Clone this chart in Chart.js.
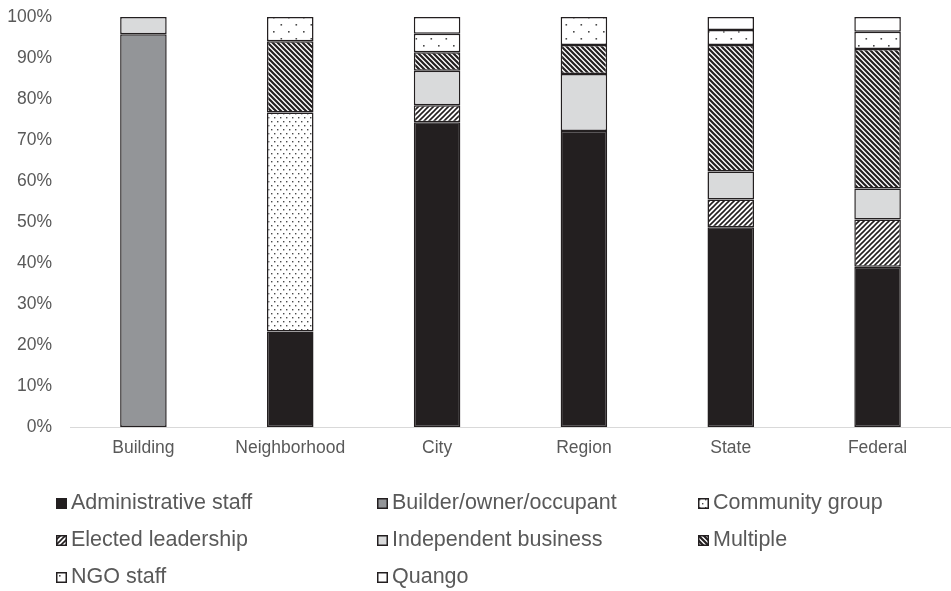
<!DOCTYPE html>
<html>
<head>
<meta charset="utf-8">
<script src="https://cdn.jsdelivr.net/npm/chart.js@4.4.0/dist/chart.umd.min.js"></script>
<style>
  html, body { margin: 0; padding: 0; background: #ffffff; }
  #wrap { position: relative; width: 951px; height: 591px; overflow: hidden; }
  #chart { position: absolute; left: 0; top: 0; }
  .leg { position: absolute; display: flex; align-items: center; font-family: "Liberation Sans", Arial, sans-serif; font-size: 21.5px; color: #595959; white-space: nowrap; line-height: 1; }
  .leg canvas { margin-right: 4px; }
</style>
</head>
<body>
<div id="wrap">
  <canvas id="chart" width="951" height="591"></canvas>
  <div id="legend"></div>
</div>
<script>
// ---- data (percent of each category) ----
const categories = ['Building', 'Neighborhood', 'City', 'Region', 'State', 'Federal'];
const seriesNames = ['Administrative staff', 'Builder/owner/occupant', 'Community group', 'Elected leadership', 'Independent business', 'Multiple', 'NGO staff', 'Quango'];
const adminStaff          = [null, 23.3, 74.3, 72.2, 48.7, 39.1];
const builderOwner        = [95.8, null, null, null, null, null];
const communityGroup      = [null, 53.4, null, null, null, null];
const electedLeadership   = [null, null, 4.2, null, 6.8, 11.5];
const independentBusiness = [4.2, null, 8.4, 13.9, 6.8, 7.6];
const multiple            = [null, 17.4, 4.5, 7.1, 30.9, 34.0];
const ngoStaff            = [null, 5.9, 4.5, 6.8, 3.6, 4.2];
const quango              = [null, null, 4.1, null, 3.2, 3.6];
const yTicks = [0, 10, 20, 30, 40, 50, 60, 70, 80, 90, 100];

// ---- patterns ----
const INK = '#231f20';
function makeTile(w, h, draw) {
  const c = document.createElement('canvas');
  c.width = w; c.height = h;
  const g = c.getContext('2d');
  draw(g, w, h);
  return c;
}
function dots(w, h, pts, r, col) {
  return makeTile(w, h, (g) => {
    g.fillStyle = '#ffffff'; g.fillRect(0, 0, w, h);
    g.fillStyle = col;
    pts.forEach(p => { g.fillRect(p[0], p[1], r, r); });
  });
}
function stripes(s, lw, dir) {
  return makeTile(s, s, (g) => {
    g.fillStyle = '#ffffff'; g.fillRect(0, 0, s, s);
    g.strokeStyle = INK; g.lineWidth = lw; g.lineCap = 'square';
    g.beginPath();
    if (dir === 'back') { // "\\\"
      g.moveTo(-s, 0); g.lineTo(s, 2 * s);
      g.moveTo(0, 0); g.lineTo(s, s);
      g.moveTo(0, -s); g.lineTo(2 * s, s);
    } else { // "///"
      g.moveTo(0, s); g.lineTo(s, 0);
      g.moveTo(-s, s); g.lineTo(s, -s);
      g.moveTo(0, 2 * s); g.lineTo(2 * s, 0);
    }
    g.stroke();
  });
}
const ctxMain = document.getElementById('chart').getContext('2d');
const tiles = {
  community: dots(6, 8, [[1, 1], [4, 5]], 1.4, '#4a4a4a'),
  elected: stripes(5, 1.6, 'fwd'),
  multiple: stripes(5, 2.2, 'back'),
  ngo: dots(15, 14, [[3, 3], [10.5, 10]], 1.6, '#4a4a4a')
};
const fills = [
  INK,
  '#939598',
  ctxMain.createPattern(tiles.community, 'repeat'),
  ctxMain.createPattern(tiles.elected, 'repeat'),
  '#d9dadb',
  ctxMain.createPattern(tiles.multiple, 'repeat'),
  ctxMain.createPattern(tiles.ngo, 'repeat'),
  '#ffffff'
];
const values = [adminStaff, builderOwner, communityGroup, electedLeadership, independentBusiness, multiple, ngoStaff, quango];

const datasets = values.map((v, i) => ({
  label: seriesNames[i],
  data: v,
  backgroundColor: fills[i],
  borderColor: INK,
  borderWidth: 1.5,
  borderSkipped: false,
  categoryPercentage: 1.0,
  barPercentage: 0.317
}));

new Chart(ctxMain, {
  type: 'bar',
  data: { labels: categories, datasets: datasets },
  options: {
    responsive: false,
    devicePixelRatio: 1,
    animation: false,
    layout: { padding: { top: 17, right: 0, bottom: 124, left: 0 } },
    plugins: { legend: { display: false }, tooltip: { enabled: false } },
    scales: {
      x: {
        stacked: true,
        grid: { display: false },
        border: { display: true, color: '#d9d9d9', width: 1 },
        ticks: { color: '#595959', font: { family: '"Liberation Sans", Arial, sans-serif', size: 17.5 }, padding: 3, maxRotation: 0 },
        afterFit: (s) => { s.height = 40; s.paddingLeft = 0; s.paddingRight = 0; }
      },
      y: {
        stacked: true,
        min: 0, max: 100,
        afterBuildTicks: (s) => { s.ticks = yTicks.map(v => ({ value: v })); },
        grid: { display: false },
        border: { display: false },
        ticks: { color: '#595959', font: { family: '"Liberation Sans", Arial, sans-serif', size: 17.5 }, padding: 10, callback: (v) => v + '%' },
        afterFit: (s) => { s.width = 70; s.paddingTop = 0; s.paddingBottom = 0; }
      }
    }
  }
});

// ---- legend (3 columns) ----
const legCols = [56, 377, 698];
const legRows = [503, 540, 577];
const legend = document.getElementById('legend');
seriesNames.forEach((name, i) => {
  const d = document.createElement('div');
  d.className = 'leg';
  d.style.left = legCols[i % 3] + 'px';
  d.style.top = (legRows[Math.floor(i / 3)] - 12) + 'px';
  d.style.height = '24px';
  const sw = document.createElement('canvas');
  sw.width = 11; sw.height = 11;
  const g = sw.getContext('2d');
  g.fillStyle = (typeof fills[i] === 'string') ? fills[i] : g.createPattern(Object.values(tiles)[[2, 3, 5, 6].indexOf(i)], 'repeat');
  g.fillRect(0, 0, 11, 11);
  g.strokeStyle = INK; g.lineWidth = 1.5;
  g.strokeRect(0.75, 0.75, 9.5, 9.5);
  d.appendChild(sw);
  const t = document.createElement('span');
  t.textContent = name;
  d.appendChild(t);
  legend.appendChild(d);
});
</script>
</body>
</html>
